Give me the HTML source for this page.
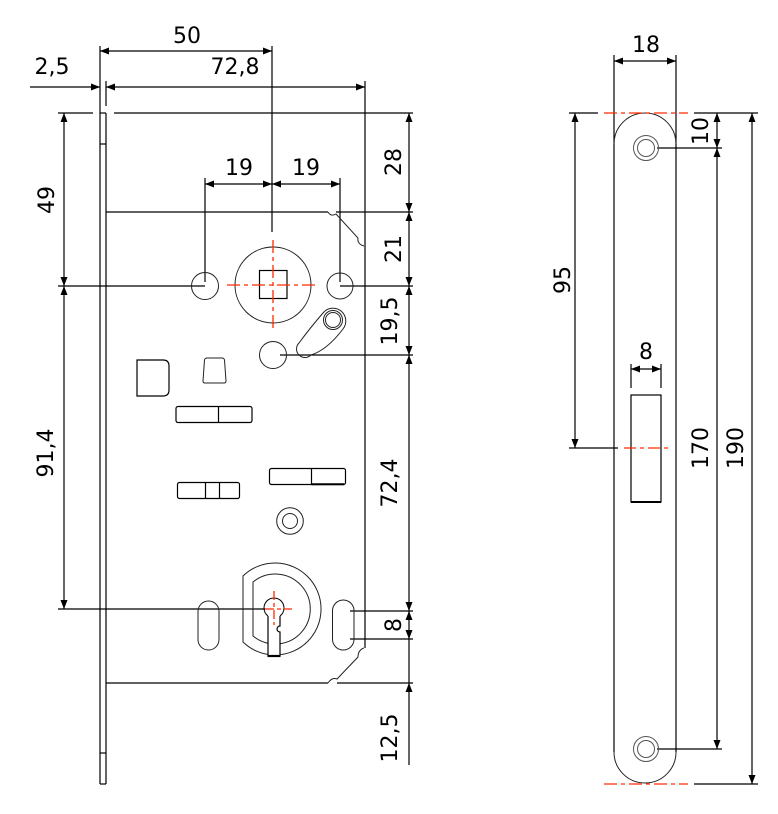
<!DOCTYPE html>
<html><head><meta charset="utf-8"><style>
html,body{margin:0;padding:0;background:#fff;}
svg{display:block;}
text{font-family:"DejaVu Sans","Liberation Sans",sans-serif;font-size:22px;fill:#000;}
</style></head><body>
<svg width="778" height="814" viewBox="0 0 778 814" xmlns="http://www.w3.org/2000/svg">
<rect width="778" height="814" fill="#fff"/>
<g stroke="#000" stroke-width="1.2" fill="none" stroke-linecap="butt">
 <!-- faceplate -->
 <line x1="100" y1="46" x2="100" y2="784"/>
 <line x1="106" y1="113" x2="106" y2="784"/>
 <line x1="100" y1="113" x2="106" y2="113"/>
 <line x1="100" y1="144" x2="106" y2="144"/>
 <line x1="100" y1="753" x2="106" y2="753"/>
 <line x1="100" y1="784" x2="106" y2="784"/>
 <line x1="106" y1="81" x2="106" y2="106"/>
 <!-- top line 113 -->
 <line x1="58" y1="113" x2="93" y2="113"/>
 <line x1="114" y1="113" x2="413" y2="113"/>
 <!-- body -->
 <line x1="106" y1="212" x2="328" y2="212"/>
 <line x1="336" y1="212" x2="413" y2="212"/>
 <line x1="365" y1="81" x2="365" y2="648"/>
 <line x1="106" y1="683" x2="328" y2="683"/>
 <line x1="337" y1="683" x2="413" y2="683"/>
 <!-- dims top -->
 <line x1="100" y1="51" x2="272" y2="51"/>
 <line x1="272" y1="46" x2="272" y2="232"/>
 <line x1="30" y1="87" x2="100" y2="87"/>
 <line x1="106" y1="87" x2="365" y2="87"/>
 <!-- 19 19 -->
 <line x1="205" y1="178" x2="205" y2="282"/>
 <line x1="340" y1="178" x2="340" y2="282"/>
 <line x1="205" y1="184" x2="340" y2="184"/>
 <!-- left vertical dim -->
 <line x1="64" y1="113" x2="64" y2="609"/>
 <line x1="58" y1="286" x2="205" y2="286"/>
 <line x1="58" y1="609" x2="265" y2="609"/>
 <!-- right vertical dim -->
 <line x1="409" y1="113" x2="409" y2="765"/>
 <line x1="340" y1="286" x2="413" y2="286"/>
 <line x1="280" y1="355" x2="413" y2="355"/>
 <line x1="350" y1="611" x2="413" y2="611"/>
 <line x1="350" y1="639" x2="413" y2="639"/>

 <!-- right drawing -->
 <line x1="614" y1="55" x2="614" y2="752"/>
 <line x1="676" y1="55" x2="676" y2="752"/>
 <line x1="614" y1="61" x2="676" y2="61"/>
 <line x1="569" y1="113" x2="598" y2="113"/>
 <line x1="694" y1="113" x2="758" y2="113"/>
 <line x1="694" y1="784" x2="758" y2="784"/>
 <line x1="575" y1="113" x2="575" y2="448"/>
 <line x1="569" y1="448" x2="618" y2="448"/>
 <line x1="631" y1="364" x2="631" y2="388"/>
 <line x1="661" y1="364" x2="661" y2="388"/>
 <line x1="631" y1="369" x2="661" y2="369"/>
 <rect x="631" y="395" width="30" height="107"/>
 <line x1="631" y1="502" x2="661" y2="502" stroke-width="2"/>
 <line x1="657" y1="148" x2="722" y2="148"/>
 <line x1="657" y1="749" x2="722" y2="749"/>
 <line x1="717" y1="113" x2="717" y2="749"/>
 <line x1="752" y1="113" x2="752" y2="784"/>
</g>

<!-- shapes (thinner, grey) -->
<g stroke="#222" stroke-width="1" fill="none">
 <path d="M328,212 Q331,217 336,214 L358,238 Q357,244 364,246"/>
 <path d="M328,683 Q332,677 337,679 L358,657 Q358,650 364,648"/>
 <circle cx="205" cy="286" r="13.5"/>
 <circle cx="340" cy="286" r="13"/>
 <circle cx="273" cy="285" r="38"/>
 <rect x="259.5" y="270.5" width="27.5" height="28" stroke="#000" stroke-width="1.2"/>
 <circle cx="273" cy="355" r="13.5"/>
 <path d="M299,343 Q310,328 323,313 A12.5,12.5 0 0 1 343,329 Q327,350 311,355 A7.5,7.5 0 0 1 299,343 Z"/>
 <circle cx="333" cy="320" r="9.5"/>
 <circle cx="333" cy="320" r="7.5"/>
 <path d="M137,360 H163 Q169,360 169,366 V390 Q169,396 163,396 H137 Z" stroke="#000" stroke-width="1.2"/>
 <path d="M207,358 H222 Q224,358 224.5,360 L226,381 Q226,383 224,383 H205 Q203,383 203,381 L204.5,360 Q205,358 207,358 Z"/>
 <rect x="176" y="406.5" width="76" height="16" rx="2" stroke="#000" stroke-width="1.2"/>
 <line x1="218.5" y1="406.5" x2="218.5" y2="422.5" stroke="#000" stroke-width="1.2"/>
 <rect x="269.5" y="468.5" width="76" height="16" rx="2" stroke="#000" stroke-width="1.2"/>
 <line x1="311.5" y1="468.5" x2="311.5" y2="484.5" stroke="#000" stroke-width="1.2"/>
 <line x1="311.5" y1="484.3" x2="344" y2="484.3" stroke="#000" stroke-width="2"/>
 <rect x="177.5" y="482.5" width="62" height="16" rx="2" stroke="#000" stroke-width="1.2"/>
 <line x1="205.5" y1="482.5" x2="205.5" y2="498.5" stroke="#000" stroke-width="1.2"/>
 <line x1="219.5" y1="482.5" x2="219.5" y2="498.5" stroke="#000" stroke-width="1.2"/>
 <circle cx="290" cy="521" r="13.3"/>
 <circle cx="290" cy="521" r="7.5"/>
 <rect x="198" y="601" width="21" height="49" rx="10.5"/>
 <rect x="332.5" y="600" width="21.5" height="50" rx="10.75"/>
 <!-- cylinder -->
 <path d="M243,576 A46,46 0 1 1 243,642 Z"/>
 <path d="M253,582 A35,35 0 1 1 253,636 Z"/>
 <rect x="268.5" y="612" width="11" height="44" fill="#fff" stroke="none"/>
 <path d="M268,616 A10,10 0 1 1 280,616" stroke="#000"/>
 <path d="M268,616 V656" stroke="#000" stroke-width="1.2"/>
 <path d="M280,616 V626 A3,3 0 0 0 280,632 V656" stroke="#000" stroke-width="1.2"/>
 <line x1="267.5" y1="656" x2="280.5" y2="656" stroke="#000" stroke-width="2.2"/>
 <!-- strike plate arcs & screws -->
 <path d="M614,144 A31,31 0 0 1 676,144"/>
 <path d="M614,752 A31,31 0 0 0 676,752"/>
 <circle cx="646" cy="148" r="12.5" stroke="#555"/>
 <circle cx="646" cy="148" r="8.5" stroke="#555"/>
 <circle cx="646" cy="749" r="12.5" stroke="#555"/>
 <circle cx="646" cy="749" r="8.5" stroke="#555"/>
</g>

<!-- red center lines -->
<g stroke="#ff2a00" stroke-width="1.3" fill="none" stroke-dasharray="13 4 4 4">
 <line x1="227" y1="285" x2="318" y2="285"/>
 <line x1="273" y1="240" x2="273" y2="330"/>
 <line x1="265" y1="609" x2="292" y2="609" stroke-dasharray="9 3 4 3"/>
 <line x1="274" y1="591" x2="274" y2="625" stroke-dasharray="9 3 4 3"/>
 <line x1="604" y1="113" x2="688" y2="113"/>
 <line x1="604" y1="784" x2="688" y2="784"/>
 <line x1="624" y1="448" x2="668" y2="448" stroke-dasharray="12 4 4 4"/>
</g>

<!-- arrowheads -->
<g fill="#000" stroke="none">
 <polygon points="100,51 109,47.5 109,54.5"/>
 <polygon points="272,51 263,47.5 263,54.5"/>
 <polygon points="100,87 91,83.5 91,90.5"/>
 <polygon points="106,87 115,83.5 115,90.5"/>
 <polygon points="365,87 356,83.5 356,90.5"/>
 <polygon points="205,184 214,180.5 214,187.5"/>
 <polygon points="272,184 263,180.5 263,187.5"/>
 <polygon points="272,184 281,180.5 281,187.5"/>
 <polygon points="340,184 331,180.5 331,187.5"/>
 <polygon points="64,113 60.5,122 67.5,122"/>
 <polygon points="64,286 60.5,277 67.5,277"/>
 <polygon points="64,286 60.5,295 67.5,295"/>
 <polygon points="64,609 60.5,600 67.5,600"/>
 <polygon points="409,113 405.5,122 412.5,122"/>
 <polygon points="409,212 405.5,203 412.5,203"/>
 <polygon points="409,212 405.5,221 412.5,221"/>
 <polygon points="409,286 405.5,277 412.5,277"/>
 <polygon points="409,286 405.5,295 412.5,295"/>
 <polygon points="409,355 405.5,346 412.5,346"/>
 <polygon points="409,355 405.5,364 412.5,364"/>
 <polygon points="409,611 405.5,602 412.5,602"/>
 <polygon points="409,611 405.5,620 412.5,620"/>
 <polygon points="409,639 405.5,630 412.5,630"/>
 <polygon points="409,683 405.5,692 412.5,692"/>
 <polygon points="614,61 623,57.5 623,64.5"/>
 <polygon points="676,61 667,57.5 667,64.5"/>
 <polygon points="575,113 571.5,122 578.5,122"/>
 <polygon points="575,448 571.5,439 578.5,439"/>
 <polygon points="631,369 640,365.5 640,372.5"/>
 <polygon points="661,369 652,365.5 652,372.5"/>
 <polygon points="717,113 713.5,122 720.5,122"/>
 <polygon points="717,148 713.5,139 720.5,139"/>
 <polygon points="717,148 713.5,157 720.5,157"/>
 <polygon points="717,749 713.5,740 720.5,740"/>
 <polygon points="752,113 748.5,122 755.5,122"/>
 <polygon points="752,784 748.5,775 755.5,775"/>
</g>

<!-- labels -->
<g text-anchor="middle">
 <text x="187" y="43">50</text>
 <text x="52" y="74">2,5</text>
 <text x="235" y="74">72,8</text>
 <text x="239" y="175">19</text>
 <text x="306" y="175">19</text>
 <text transform="translate(54,200) rotate(-90)">49</text>
 <text transform="translate(53,453) rotate(-90)">91,4</text>
 <text transform="translate(401,162) rotate(-90)">28</text>
 <text transform="translate(401,249) rotate(-90)">21</text>
 <text transform="translate(397,321) rotate(-90)">19,5</text>
 <text transform="translate(397,483) rotate(-90)">72,4</text>
 <text transform="translate(401,625) rotate(-90)">8</text>
 <text transform="translate(397,738) rotate(-90)">12,5</text>
 <text x="646" y="52">18</text>
 <text x="646" y="359">8</text>
 <text transform="translate(708,131) rotate(-90)">10</text>
 <text transform="translate(570,280) rotate(-90)">95</text>
 <text transform="translate(708,448) rotate(-90)">170</text>
 <text transform="translate(743,448) rotate(-90)">190</text>
</g>
</svg>
</body></html>
